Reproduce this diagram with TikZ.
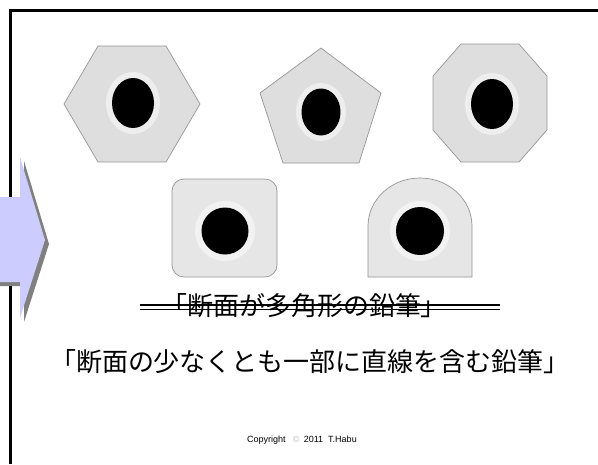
\documentclass[tikz,border=0pt]{standalone}
\usepackage{fontspec}
\setmainfont{Liberation Sans}
\newfontfamily\jpfont{Noto Sans CJK JP}
\definecolor{arrowfill}{RGB}{204,204,255}
\definecolor{shadowgray}{RGB}{128,128,128}
\definecolor{shapefill}{RGB}{222,222,222}
\definecolor{shapeline}{RGB}{150,150,150}
\tikzset{
  section/.style={fill=shapefill, draw=shapeline, line width=0.7pt},
  sectionlight/.style={fill=shapefill!75!white, draw=shapeline, line width=0.7pt},
  halo/.style={fill=white, opacity=0.5},
  core/.style={fill=black},
  jptext/.style={font=\jpfont\fontsize{26}{31}\selectfont, inner sep=0pt},
  frameline/.style={line width=2.2pt, black}
}
\begin{document}
\begin{tikzpicture}[x=1pt,y=-1pt]
\useasboundingbox (0,0) rectangle (598,464);
\fill[white] (0,0) rectangle (598,464);
% frame
\coordinate (fbl) at (10.5,464);
\coordinate (ftl) at (10.5,10.5);
\coordinate (ftr) at (598,10.5);
\draw[frameline] (fbl) -- (ftl) -- (ftr);
% block arrow with shadow
\fill[shadowgray] (-5,201) -- (24,201) -- (24,161) -- (49,244) -- (24,322) -- (24,286) -- (-5,286) -- cycle;
\fill[arrowfill] (-5,197) -- (20,197) -- (20,157) -- (45,240) -- (20,318) -- (20,282) -- (-5,282) -- cycle;
% hexagon
\draw[section] (64,104) -- (98,46) -- (166,46) -- (200,104) -- (166,162) -- (98,162) -- cycle;
\fill[halo] (133,103) ellipse (27 and 31);
\fill[core] (133,103) ellipse (21 and 25);
% pentagon
\draw[section] (321,48) -- (381,93) -- (359,163) -- (283,163) -- (260,93) -- cycle;
\fill[halo] (321,112) ellipse (25 and 29);
\fill[core] (321,112) ellipse (19.5 and 23.5);
% octagon
\draw[section] (461,44) -- (519,44) -- (547,76) -- (547,130) -- (519,162) -- (461,162) -- (433,130) -- (433,76) -- cycle;
\fill[halo] (492,104) ellipse (27 and 31);
\fill[core] (492,104) ellipse (21 and 25);
% rounded square
\draw[sectionlight, rounded corners=12pt] (172,179) rectangle (277,277);
\fill[halo] (225,231) circle (30);
\fill[core] (225,231) circle (23.5);
% arch
\draw[sectionlight] (368,277) -- (368,226) arc[start angle=180, end angle=0, x radius=52, y radius=-48] -- (472,277) -- cycle;
\fill[halo] (420,231) circle (30);
\fill[core] (420,231) circle (24);
% texts
\node[jptext] (old) at (304,306) {「断面が多角形の鉛筆」};
\coordinate (s1a) at (140,305);
\coordinate (s1b) at (500,305);
\coordinate (s2a) at (140,309.5);
\coordinate (s2b) at (500,309.5);
\draw[line width=1.4pt] (s1a) -- (s1b);
\draw[line width=1.4pt] (s2a) -- (s2b);
\node[jptext] (new) at (310,362) {「断面の少なくとも一部に直線を含む鉛筆」};
\node[font=\fontsize{9}{11}\selectfont, inner sep=0pt] (copy) at (302,440) {Copyright \enspace\textcolor{black!25}{©}\enspace 2011\ \ T.Habu};
\end{tikzpicture}
\end{document}
